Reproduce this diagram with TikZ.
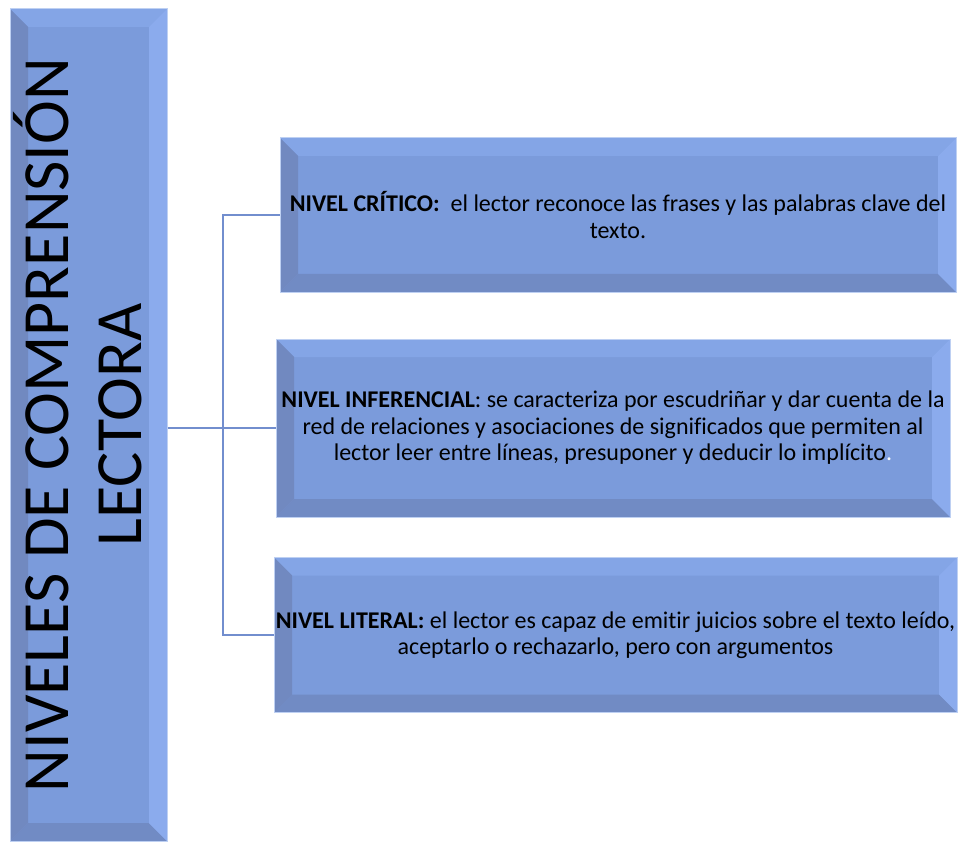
\documentclass[tikz,border=0pt]{standalone}
\usepackage{fontspec}
\setmainfont{Carlito}[Ligatures=NoCommon]
\usetikzlibrary{positioning}
\definecolor{cajaazul}{RGB}{123,155,219}
\definecolor{biselarriba}{RGB}{132,165,230}
\definecolor{biselabajo}{RGB}{113,139,196}
\definecolor{biselclaro}{RGB}{139,171,237}
\definecolor{biseloscuro}{RGB}{113,137,192}
\definecolor{bordeazul}{RGB}{190,208,242}
\definecolor{lineaazul}{RGB}{114,142,206}

% bevel of the boxes, left and right colours as arguments
\newcommand{\biselar}[2]{%
  \fill[biselarriba] (path picture bounding box.north west) -- (path picture bounding box.north east)
    -- ([xshift=-18pt,yshift=-18pt]path picture bounding box.north east) -- ([xshift=18pt,yshift=-18pt]path picture bounding box.north west) -- cycle;
  \fill[biselabajo] (path picture bounding box.south west) -- (path picture bounding box.south east)
    -- ([xshift=-18pt,yshift=18pt]path picture bounding box.south east) -- ([xshift=18pt,yshift=18pt]path picture bounding box.south west) -- cycle;
  \fill[#1] (path picture bounding box.north west) -- ([xshift=18pt,yshift=-18pt]path picture bounding box.north west)
    -- ([xshift=18pt,yshift=18pt]path picture bounding box.south west) -- (path picture bounding box.south west) -- cycle;
  \fill[#2] (path picture bounding box.north east) -- ([xshift=-18pt,yshift=-18pt]path picture bounding box.north east)
    -- ([xshift=-18pt,yshift=18pt]path picture bounding box.south east) -- (path picture bounding box.south east) -- cycle;
}

\begin{document}
\begin{tikzpicture}[x=1pt,y=-1pt]
\tikzstyle{caja} = [rectangle, inner sep=0pt, align=center, fill=cajaazul, draw=bordeazul, line width=1pt, font=\fontsize{24}{26.5}\selectfont, path picture={\biselar{biseloscuro}{biselclaro}}]
\tikzstyle{cajaalta} = [caja, font=\fontsize{66}{73}\selectfont]
\tikzstyle{conector} = [draw=lineaazul, line width=1.8pt]

\useasboundingbox (0,0) rectangle (958,842);

\node (niveles) [cajaalta, minimum width=157, minimum height=832] at (88.5,425)
  {\rotatebox{90}{\begin{tabular}{@{}c@{}}NIVELES DE COMPRENSIÓN\\LECTORA\end{tabular}}};

\node (critico) [caja, minimum width=676, minimum height=154] at (618,215)
  {\textbf{NIVEL CRÍTICO:}\ \ el lector reconoce las frases y las palabras clave del\\texto.};
\node (inferencial) [caja, minimum width=674, minimum height=178] at (613,428)
  {\textbf{NIVEL INFERENCIAL}: se caracteriza por escudriñar y dar cuenta de la\\red de relaciones y asociaciones de significados que permiten al\\lector leer entre líneas, presuponer y deducir lo implícito\textcolor{white}{.}};
\node (literal) [caja, minimum width=683, minimum height=155] at (615.5,635)
  {\textbf{NIVEL LITERAL:} el lector es capaz de emitir juicios sobre el texto leído,\\aceptarlo o rechazarlo, pero con argumentos};

\coordinate (junta) at (223,428);

\draw [conector] (niveles.east |- junta) -- (inferencial.west |- junta);
\draw [conector] (junta) |- (critico.west);
\draw [conector] (junta) |- (literal.west);
\end{tikzpicture}
\end{document}
